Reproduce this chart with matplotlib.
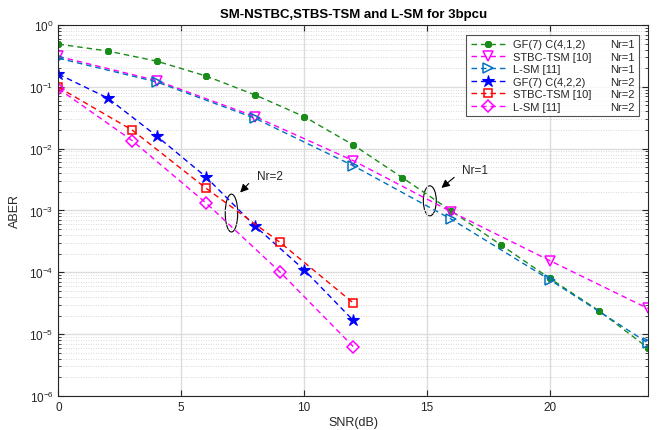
import matplotlib
matplotlib.use("Agg")
import matplotlib.pyplot as plt
from matplotlib.lines import Line2D
from matplotlib.patches import Ellipse
from matplotlib.ticker import LogLocator, NullFormatter

plt.rcParams['font.family'] = ['Liberation Sans', 'DejaVu Sans']
plt.rcParams['lines.dashed_pattern'] = [4.0, 2.8]

# Nr=1 curves
snr_gf1 = [0, 2, 4, 6, 8, 10, 12, 14, 16, 18, 20, 22, 24]
aber_gf1 = [0.49, 0.38, 0.26, 0.15, 0.074, 0.033, 0.0115, 0.0034, 0.00098,
            0.00028, 0.00008, 0.000024, 0.000006]
snr_stbc1 = [0, 4, 8, 12, 16, 20, 24]
aber_stbc1 = [0.31, 0.126, 0.033, 0.0064, 0.00095, 0.000155, 0.000026]
snr_lsm1 = [0, 4, 8, 12, 16, 20, 24]
aber_lsm1 = [0.29, 0.12, 0.031, 0.0053, 0.00072, 0.000076, 0.0000072]

# Nr=2 curves
snr_gf2 = [0, 2, 4, 6, 8, 10, 12]
aber_gf2 = [0.16, 0.066, 0.016, 0.0035, 0.00056, 0.00011, 0.0000167]
snr_stbc2 = [0, 3, 6, 9, 12]
aber_stbc2 = [0.098, 0.02, 0.0023, 0.00031, 0.000032]
snr_lsm2 = [0, 3, 6, 9, 12]
aber_lsm2 = [0.093, 0.0135, 0.00133, 0.000103, 0.0000063]

labels = ["GF(7) C(4,1,2)", "STBC-TSM [10]", "L-SM [11]",
          "GF(7) C(4,2,2)", "STBC-TSM [10]", "L-SM [11]"]
nr_labels = ["Nr=1", "Nr=1", "Nr=1", "Nr=2", "Nr=2", "Nr=2"]

fig = plt.figure(figsize=(6.7, 4.31), dpi=100)
ax = fig.add_axes([0.0873, 0.079, 0.8797, 0.8607])

green = '#1a8c1a'
mlb = '#0072bd'

lines = []
lines += ax.semilogy(snr_gf1, aber_gf1, '--', color=green, marker=(8, 2, 0), ms=5, mew=1.6, lw=1.0)
lines += ax.semilogy(snr_stbc1, aber_stbc1, '--', color='#ff00ff', marker='v', ms=7, mfc='none', mew=1.1, lw=1.0)
lines += ax.semilogy(snr_lsm1, aber_lsm1, '--', color=mlb, marker='>', ms=7, mfc='none', mew=1.1, lw=1.0)
lines += ax.semilogy(snr_gf2, aber_gf2, '--', color='#0000ff', marker='*', ms=9, mew=0.8, lw=1.0)
lines += ax.semilogy(snr_stbc2, aber_stbc2, '--', color='#ff0000', marker='s', ms=6, mfc='none', mew=1.1, lw=1.0)
lines += ax.semilogy(snr_lsm2, aber_lsm2, '--', color='#ff00ff', marker='D', ms=6, mfc='none', mew=1.1, lw=1.0)

ax.set_xlim(0, 24)
ax.set_ylim(1e-6, 1)
ax.set_xticks([0, 5, 10, 15, 20])
ax.yaxis.set_major_locator(LogLocator(base=10, numticks=10))
ax.yaxis.set_minor_locator(LogLocator(base=10, subs=range(2, 10), numticks=20))
ax.yaxis.set_minor_formatter(NullFormatter())

ax.grid(True, which='major', color='#dcdcdc', lw=1.0, ls='-')
ax.grid(True, which='minor', axis='y', color='#cccccc', lw=0.6, ls=(0, (1, 2)))
ax.tick_params(which='both', direction='in', top=True, right=True, labelsize=8.5, colors='#262626')
ax.tick_params(which='major', length=4)
ax.tick_params(which='minor', length=2)
for s in ax.spines.values():
    s.set_color('#262626')
    s.set_linewidth(0.8)

ax.set_xlabel("SNR(dB)", fontsize=9, color='#262626', labelpad=2)
ax.set_ylabel("ABER", fontsize=9, color='#262626', labelpad=6)
ax.set_title("SM-NSTBC,STBS-TSM and L-SM for 3bpcu", fontsize=9.5, fontweight='bold', pad=6)

# second legend column holds the Nr labels (no visible handle)
blank = [Line2D([], [], ls='none') for _ in nr_labels]
leg = ax.legend(lines + blank, labels + nr_labels, ncol=2, loc='upper right',
                bbox_to_anchor=(0.985, 0.973), fontsize=8, frameon=True, fancybox=False,
                edgecolor='#262626', handlelength=3.2, borderpad=0.4, labelspacing=0.22,
                handletextpad=0.6, borderaxespad=0, columnspacing=-2.1)
leg.get_frame().set_linewidth(0.8)
for t in leg.get_texts():
    t.set_color('#262626')

# annotations
ax.add_patch(Ellipse((0.2935, 0.493), 0.0212, 0.102, transform=ax.transAxes,
                     fill=False, ec='black', lw=0.8))
ax.add_patch(Ellipse((0.630, 0.526), 0.022, 0.081, transform=ax.transAxes,
                     fill=False, ec='black', lw=0.8))
ax.annotate('', xy=(0.305, 0.543), xytext=(0.326, 0.578), xycoords='axes fraction',
            arrowprops=dict(arrowstyle='-|>', color='black', lw=0.8, mutation_scale=12))
ax.annotate('', xy=(0.646, 0.556), xytext=(0.675, 0.594), xycoords='axes fraction',
            arrowprops=dict(arrowstyle='-|>', color='black', lw=0.8, mutation_scale=12))
ax.text(0.337, 0.593, "Nr=2", transform=ax.transAxes, fontsize=8.5, va='center', ha='left', color='#262626')
ax.text(0.684, 0.609, "Nr=1", transform=ax.transAxes, fontsize=8.5, va='center', ha='left', color='#262626')

fig.savefig("out.png", dpi=100)
